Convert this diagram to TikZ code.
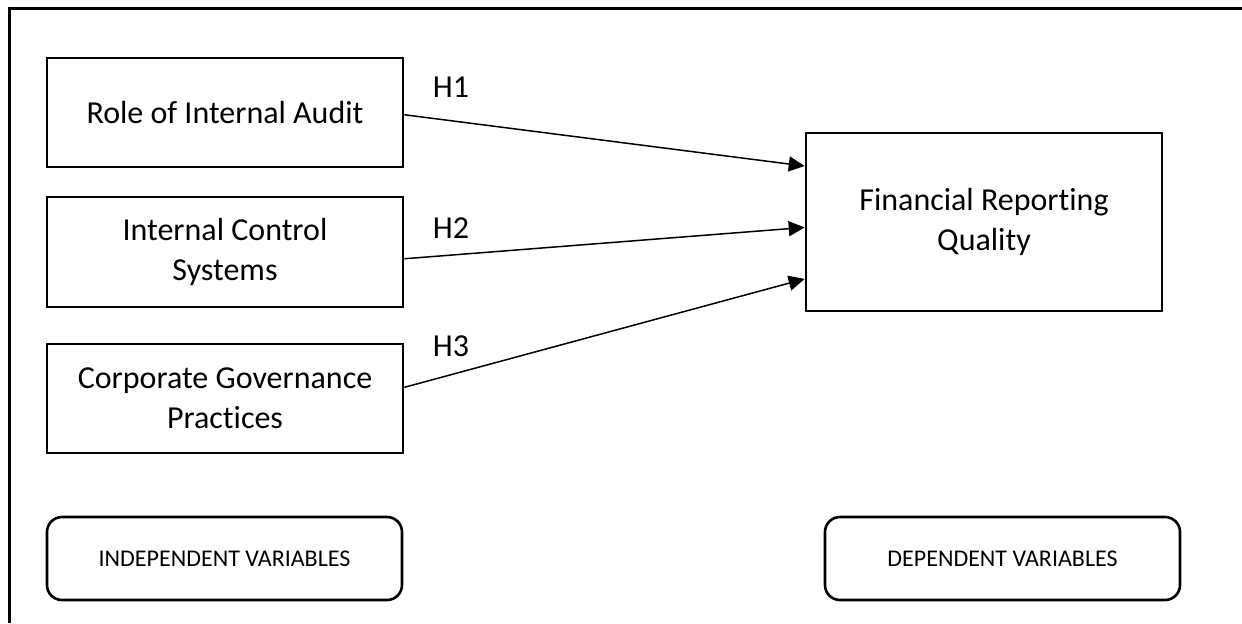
\documentclass[tikz,border=0pt]{standalone}
\usepackage{fontspec}
\setmainfont{Carlito}[Ligatures=NoCommon]
\usetikzlibrary{arrows.meta,calc}
\begin{document}
\begin{tikzpicture}[x=0.5pt,y=-0.5pt,
  varbox/.style={draw=black,line width=1.3pt,inner sep=0pt,align=center,
    font=\fontsize{16}{20}\selectfont},
  legendbox/.style={draw=black,line width=1.3pt,rounded corners=7.5pt,inner sep=0pt,
    minimum width=177.5pt,minimum height=41.5pt,font=\fontsize{12}{14}\selectfont},
  hlabel/.style={inner sep=0pt,font=\fontsize{16}{20}\selectfont},
  link/.style={line width=0.75pt,-{Triangle[length=8pt,width=7.5pt]}}]
\useasboundingbox (0,0) rectangle (1242,623);
\draw[line width=1.5pt] (9,623) -- (9,8) -- (1242,8);
\node[varbox,minimum width=178pt,minimum height=54.5pt] (b1) at (225,112.5) {Role of Internal Audit};
\node[varbox,minimum width=178pt,minimum height=55pt] (b2) at (225,252) {Internal Control\\Systems};
\node[varbox,minimum width=178pt,minimum height=54.5pt] (b3) at (225,398.5) {Corporate Governance\\Practices};
\node[varbox,minimum width=178pt,minimum height=89pt] (b4) at (984,222) {Financial Reporting\\Quality};
\node[legendbox] (l1) at (224.5,558.5) {INDEPENDENT VARIABLES};
\node[legendbox] (l2) at (1002.5,558.5) {DEPENDENT VARIABLES};
\node[hlabel] (h1) at (451,87) {H1};
\node[hlabel] (h2) at (451,228) {H2};
\node[hlabel] (h3) at (451,346) {H3};
\draw[link] ($(b1.north east)!0.52!(b1.south east)$) -- ($(b4.north west)!0.19!(b4.south west)$);
\draw[link] ($(b2.north east)!0.56!(b2.south east)$) -- ($(b4.north west)!0.53!(b4.south west)$);
\draw[link] ($(b3.north east)!0.40!(b3.south east)$) -- ($(b4.north west)!0.815!(b4.south west)$);
\end{tikzpicture}
\end{document}
